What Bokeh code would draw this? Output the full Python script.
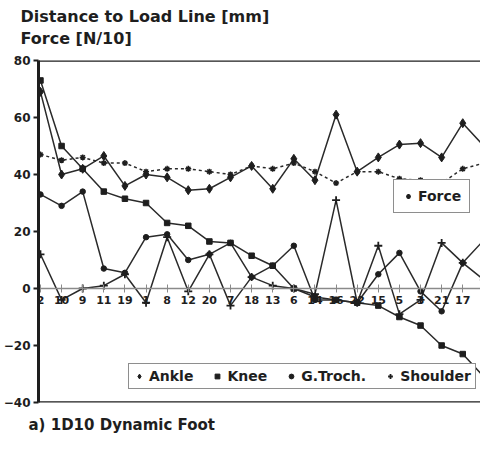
from bokeh.plotting import figure
from bokeh.models import (Range1d, FixedTicker, Span, Title, Legend, LegendItem)
from bokeh.embed import file_html
from bokeh.resources import INLINE

# ---- data ----
cats = ["2", "10", "9", "11", "19", "1", "8", "12", "20", "7", "18",
        "13", "6", "14", "16", "22", "15", "5", "3", "21", "17", "4"]
ankle = [69, 40, 42, 46.5, 36, 40, 39, 34.5, 35, 39, 43,
         35, 45.5, 38, 61, 41, 46, 50.5, 51, 46, 58, 50]
knee = [73, 50, 42, 34, 31.5, 30, 23, 22, 16.5, 16, 11.5,
        8, 0, -3, -4, -5, -6, -10, -13, -20, -23, -31]
gtroch = [33, 29, 34, 7, 5.5, 18, 19, 10, 12, 16, 4,
          8, 15, -4, -4, -5, 5, 12.5, -1, -8, 9, 17]
shoulder = [12, -4, 0, 1, 5, -5, 18, -1, 12, -6, 4,
            1, 0, -2, 31, -5, 15, -9, -4, 16, 9, 3]
force = [47, 45, 46, 44, 44, 41, 42, 42, 41, 40, 43,
         42, 44, 41, 37, 41, 41, 38.5, 38, 37, 42, 44]
y_ticks = [-40, -20, 0, 20, 40, 60, 80]

xs = list(range(len(cats)))
FONT = "DejaVu Sans"
INK = "#1e1e1e"

p = figure(width=480, height=433, output_backend="svg", toolbar_location=None,
           x_range=Range1d(-0.093, 20.84), y_range=Range1d(-40, 80),
           min_border_left=32, min_border_right=0, min_border_top=0,
           min_border_bottom=0)
p.outline_line_color = None
p.xgrid.visible = False
p.ygrid.visible = False
p.background_fill_color = "white"

# y axis
yax = p.yaxis[0]
yax.ticker = FixedTicker(ticks=y_ticks)
yax.axis_line_width = 3
yax.axis_line_color = INK
yax.major_tick_in = 0
yax.major_tick_out = 5
yax.major_tick_line_width = 2
yax.major_tick_line_color = INK
yax.minor_tick_line_color = None
yax.major_label_text_font = FONT
yax.major_label_text_font_style = "bold"
yax.major_label_text_font_size = "12px"
yax.major_label_text_color = INK
yax.major_label_standoff = 3

# x axis drawn along the zero line
xax = p.xaxis[0]
xax.fixed_location = 0
xax.ticker = FixedTicker(ticks=xs)
xax.major_label_overrides = {i: c for i, c in zip(xs, cats)}
xax.axis_line_color = "#8a8a8a"
xax.axis_line_width = 1.5
xax.major_tick_in = 4
xax.major_tick_out = 4
xax.major_tick_line_color = "#8a8a8a"
xax.major_tick_line_width = 1
xax.minor_tick_line_color = None
xax.major_label_text_font = FONT
xax.major_label_text_font_style = "bold"
xax.major_label_text_font_size = "11px"
xax.major_label_text_color = INK
xax.major_label_standoff = 3

# frame top / bottom lines
for loc in (80, -40):
    p.add_layout(Span(location=loc, dimension="width", line_color=INK, line_width=2.5))

LC = "#2a2a2a"
p.line(xs, ankle, line_color=LC, line_width=1.5)
p.line(xs, knee, line_color=LC, line_width=1.5)
p.line(xs, gtroch, line_color=LC, line_width=1.5)
p.line(xs, shoulder, line_color=LC, line_width=1.5)
p.line(xs, force, line_color=LC, line_width=1.5, line_dash="3 3")

r_ankle = p.scatter(xs, ankle, marker="diamond", size=9, color=INK)
r_knee = p.scatter(xs, knee, marker="square", size=5.5, color=INK)
r_gt = p.scatter(xs, gtroch, marker="circle", size=5.5, color=INK)
r_sh = p.scatter(xs, shoulder, marker="cross", size=8, line_color=INK, line_width=1.8)
r_f = p.scatter(xs, force, marker="asterisk", size=6, line_color=INK, line_width=1.5)

def style_legend(leg):
    leg.border_line_color = INK
    leg.border_line_width = 1.5
    leg.background_fill_color = "white"
    leg.background_fill_alpha = 1
    leg.label_text_font = FONT
    leg.label_text_font_style = "bold"
    leg.label_text_font_size = "14px"
    leg.label_text_color = INK
    leg.glyph_height = 14
    leg.label_height = 14
    leg.margin = 0

leg1 = Legend(items=[LegendItem(label="Ankle", renderers=[r_ankle]),
                     LegendItem(label="Knee", renderers=[r_knee]),
                     LegendItem(label="G.Troch.", renderers=[r_gt]),
                     LegendItem(label="Shoulder", renderers=[r_sh])],
              orientation="horizontal", location=(90, 13))
style_legend(leg1)
leg1.glyph_width = 12
leg1.label_standoff = 4
leg1.spacing = 18
leg1.padding = 4
p.add_layout(leg1)

leg2 = Legend(items=[LegendItem(label="Force", renderers=[r_f])], location=(355, 189))
style_legend(leg2)
leg2.glyph_width = 12
leg2.label_standoff = 4
leg2.padding = 8
p.add_layout(leg2)

# titles and caption
def make_title(text, size, offset, standoff):
    return Title(text=text, align="left", offset=offset, standoff=standoff,
                 text_font=FONT, text_font_style="bold", text_font_size=size,
                 text_color=INK, text_line_height=1.2)

# spacer nearest the frame, then the two-line title
p.add_layout(make_title(" ", "5px", 0, 0), "above")
p.add_layout(make_title("Distance to Load Line [mm]\nForce [N/10]", "16px", -18, 8), "above")
# spacer below the frame, then the caption
p.add_layout(make_title(" ", "8px", 0, 0), "below")
p.add_layout(make_title("a) 1D10 Dynamic Foot", "15px", -10, 0), "below")

open("out.html", "w").write(file_html(p, INLINE))
